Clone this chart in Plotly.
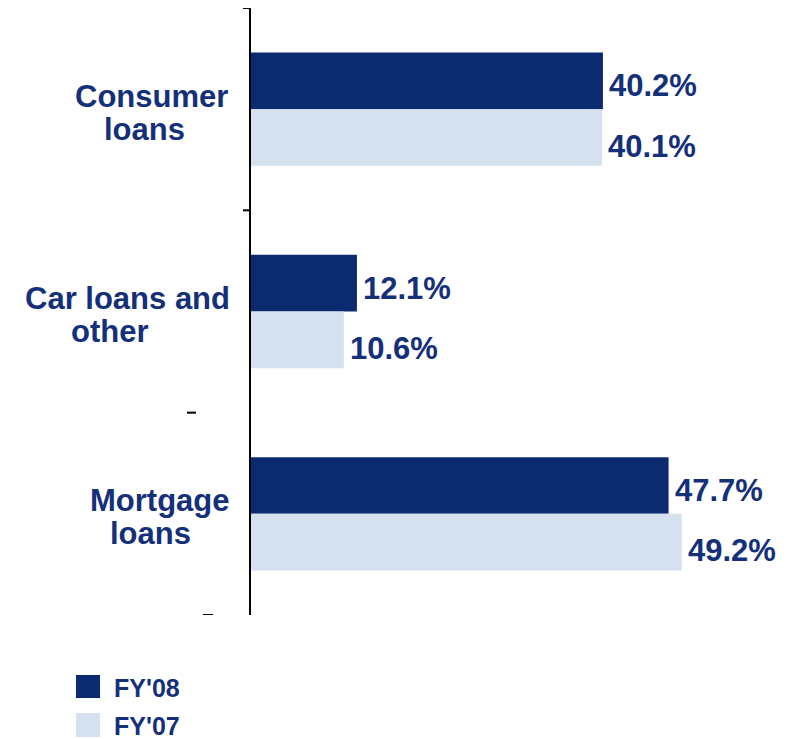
import plotly.graph_objects as go

# ---- data ----
categories = ["Consumer loans", "Car loans and other", "Mortgage loans"]
category_lines = [["Consumer", "loans"], ["Car loans and", "other"], ["Mortgage", "loans"]]
series_names = ["FY'08", "FY'07"]
fy08 = [40.2, 12.1, 47.7]
fy07 = [40.1, 10.6, 49.2]

NAVY = "#0b2a6f"
LIGHT = "#d5e1ef"
TEXT = "#14307a"
FONT = "Liberation Sans, Arial, sans-serif"

OFF = 8  # page body margin
W, H = 798 - OFF, 739 - OFF
ML, MR, MT, MB = 251 - OFF, 48, 0, 124
PW, PH = W - ML - MR, H - MT - MB


def px_x(px):
    return (px - OFF - ML) / PW


def px_y(py):
    return (H - MB - (py - OFF)) / PH


fig = go.Figure()
for name, vals, col in [(series_names[0], fy08, NAVY), (series_names[1], fy07, LIGHT)]:
    fig.add_trace(go.Bar(
        y=categories, x=vals, name=name, orientation="h",
        marker=dict(color=col, line=dict(width=0)),
        showlegend=False, hoverinfo="x+y",
    ))

annotations = []
# value labels next to each bar
label_shift = [23.5, -37]
for s, vals in enumerate([fy08, fy07]):
    for i, v in enumerate(vals):
        annotations.append(dict(
            text=f"<b>{v:.1f}%</b>", xref="x", yref="y", x=v, y=categories[i],
            xanchor="left", yanchor="middle", xshift=4, yshift=label_shift[s],
            showarrow=False, font=dict(family=FONT, size=31, color=TEXT),
        ))

# category labels, line by line
line_centers_px = [[151.5, 144.5], [127, 110], [159.5, 150.5]]
line_shifts = [13, -20]
for i, lines in enumerate(category_lines):
    for j, ln in enumerate(lines):
        annotations.append(dict(
            text="<b>" + ln + "</b>", xref="paper", yref="y",
            x=px_x(line_centers_px[i][j]), y=categories[i],
            xanchor="center", yanchor="middle", yshift=line_shifts[j],
            showarrow=False, font=dict(family=FONT, size=31, color=TEXT),
        ))

shapes = []
# tick marks at category boundaries
tick_px = [(243, 251), (243, 251), (187, 196), (203, 213)]
for k, (a, b) in enumerate(tick_px):
    shapes.append(dict(type="line", xref="paper", yref="y",
                       x0=px_x(a), x1=px_x(b), y0=k - 0.5, y1=k - 0.5,
                       line=dict(color="black", width=2)))

# manual legend
leg_rows = [(675, 698), (713, 737)]
for (name, col), (t, b) in zip([(series_names[0], NAVY), (series_names[1], LIGHT)], leg_rows):
    shapes.append(dict(type="rect", xref="paper", yref="paper",
                       x0=px_x(76), x1=px_x(100), y0=px_y(b), y1=px_y(t),
                       fillcolor=col, line=dict(width=0)))
    annotations.append(dict(
        text="<b>" + name + "</b>", xref="paper", yref="paper",
        x=px_x(112), y=px_y((t + b) / 2 + 1), xanchor="left", yanchor="middle",
        showarrow=False, font=dict(family=FONT, size=25, color=TEXT),
    ))

fig.update_layout(
    width=W, height=H,
    margin=dict(l=ML, r=MR, t=MT, b=MB, pad=0),
    paper_bgcolor="white", plot_bgcolor="white",
    barmode="group", bargap=0.44, bargroupgap=0,
    xaxis=dict(range=[0, 57], visible=False, showgrid=False, zeroline=False),
    yaxis=dict(categoryorder="array", categoryarray=categories,
               range=[2.5, -0.5], showline=True, linecolor="black", linewidth=2,
               showticklabels=False, ticks="", showgrid=False, zeroline=False),
    annotations=annotations, shapes=shapes, showlegend=False,
)

fig.write_html("out.html")
